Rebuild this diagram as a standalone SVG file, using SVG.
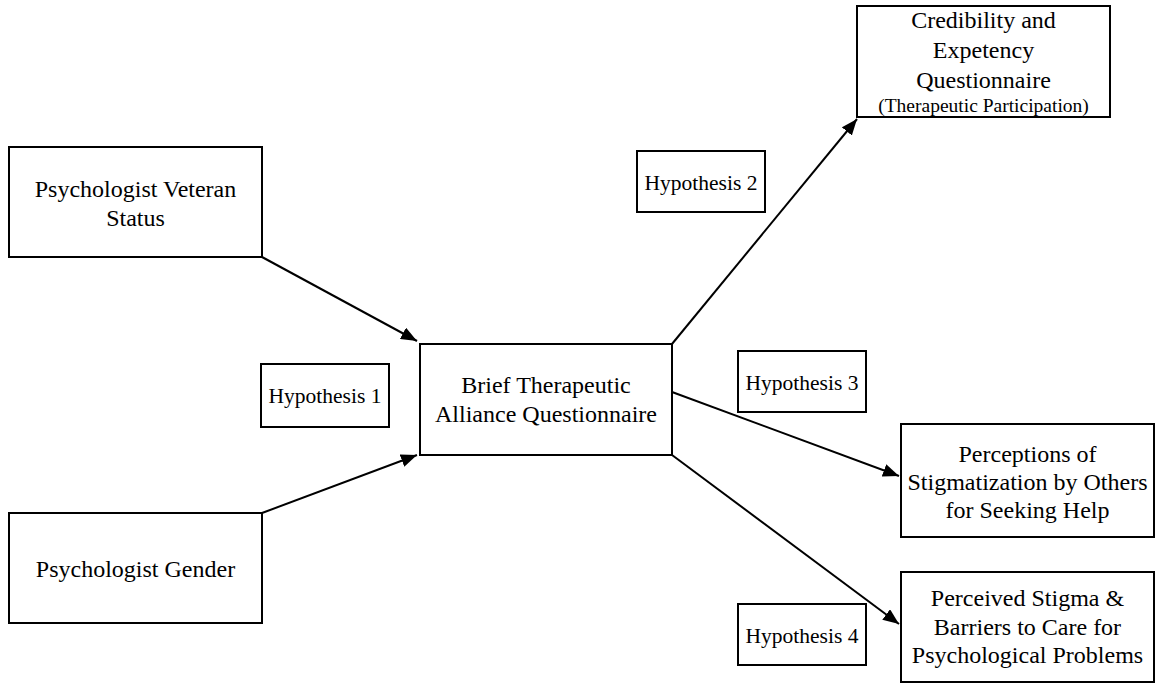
<svg xmlns="http://www.w3.org/2000/svg" width="1159" height="683" viewBox="0 0 1159 683">
<style>
.box{fill:#fff;stroke:#000;stroke-width:2}
.t{font-family:"Liberation Serif","Times New Roman",serif;font-size:24px;fill:#000;text-anchor:middle}
.h{font-family:"Liberation Serif","Times New Roman",serif;font-size:21.5px;fill:#000;text-anchor:middle}
.s{font-family:"Liberation Serif","Times New Roman",serif;font-size:19.5px;fill:#000;text-anchor:middle}
.c{stroke:#000;stroke-width:2;fill:none;marker-end:url(#arr)}
</style>
<defs>
<marker id="arr" markerUnits="userSpaceOnUse" markerWidth="17" markerHeight="13" refX="16" refY="6.5" orient="auto">
<path d="M0,0 L16,6.5 L0,13 z" fill="#000"/>
</marker>
</defs>
<rect width="1159" height="683" fill="#fff"/>
<g id="connectors">
<line class="c" x1="262" y1="257" x2="417" y2="341"/>
<line class="c" x1="262" y1="513" x2="417" y2="455"/>
<line class="c" x1="672" y1="344" x2="857" y2="119"/>
<line class="c" x1="672" y1="392" x2="899" y2="476"/>
<line class="c" x1="672" y1="455" x2="899" y2="624"/>
</g>
<g id="credibility">
<rect class="box" x="857" y="6" width="253" height="111"/>
<text class="t" x="983.5" y="28">Credibility and</text>
<text class="t" x="983.5" y="58">Expetency</text>
<text class="t" x="983.5" y="88">Questionnaire</text>
<text class="s" x="983.5" y="112">(Therapeutic Participation)</text>
</g>
<g id="veteran">
<rect class="box" x="9" y="147" width="253" height="110"/>
<text class="t" x="135.5" y="197">Psychologist Veteran</text>
<text class="t" x="135.5" y="226">Status</text>
</g>
<g id="hyp2">
<rect class="box" x="637" y="151" width="128" height="61"/>
<text class="h" x="701" y="190">Hypothesis 2</text>
</g>
<g id="hyp1">
<rect class="box" x="261" y="364" width="128" height="63"/>
<text class="h" x="325" y="403">Hypothesis 1</text>
</g>
<g id="brief">
<rect class="box" x="420" y="344" width="252" height="111"/>
<text class="t" x="546" y="393">Brief Therapeutic</text>
<text class="t" x="546" y="422">Alliance Questionnaire</text>
</g>
<g id="hyp3">
<rect class="box" x="738" y="351" width="128" height="61"/>
<text class="h" x="802" y="390">Hypothesis 3</text>
</g>
<g id="perceptions">
<rect class="box" x="901" y="424" width="253" height="113"/>
<text class="t" x="1027.5" y="462">Perceptions of</text>
<text class="t" x="1027.5" y="490">Stigmatization by Others</text>
<text class="t" x="1027.5" y="518">for Seeking Help</text>
</g>
<g id="gender">
<rect class="box" x="9" y="513" width="253" height="110"/>
<text class="t" x="135.5" y="577">Psychologist Gender</text>
</g>
<g id="hyp4">
<rect class="box" x="738" y="604" width="128" height="61"/>
<text class="h" x="802" y="643">Hypothesis 4</text>
</g>
<g id="stigma">
<rect class="box" x="901" y="572" width="253" height="110"/>
<text class="t" x="1027.5" y="606">Perceived Stigma &amp;</text>
<text class="t" x="1027.5" y="635">Barriers to Care for</text>
<text class="t" x="1027.5" y="663">Psychological Problems</text>
</g>
</svg>
